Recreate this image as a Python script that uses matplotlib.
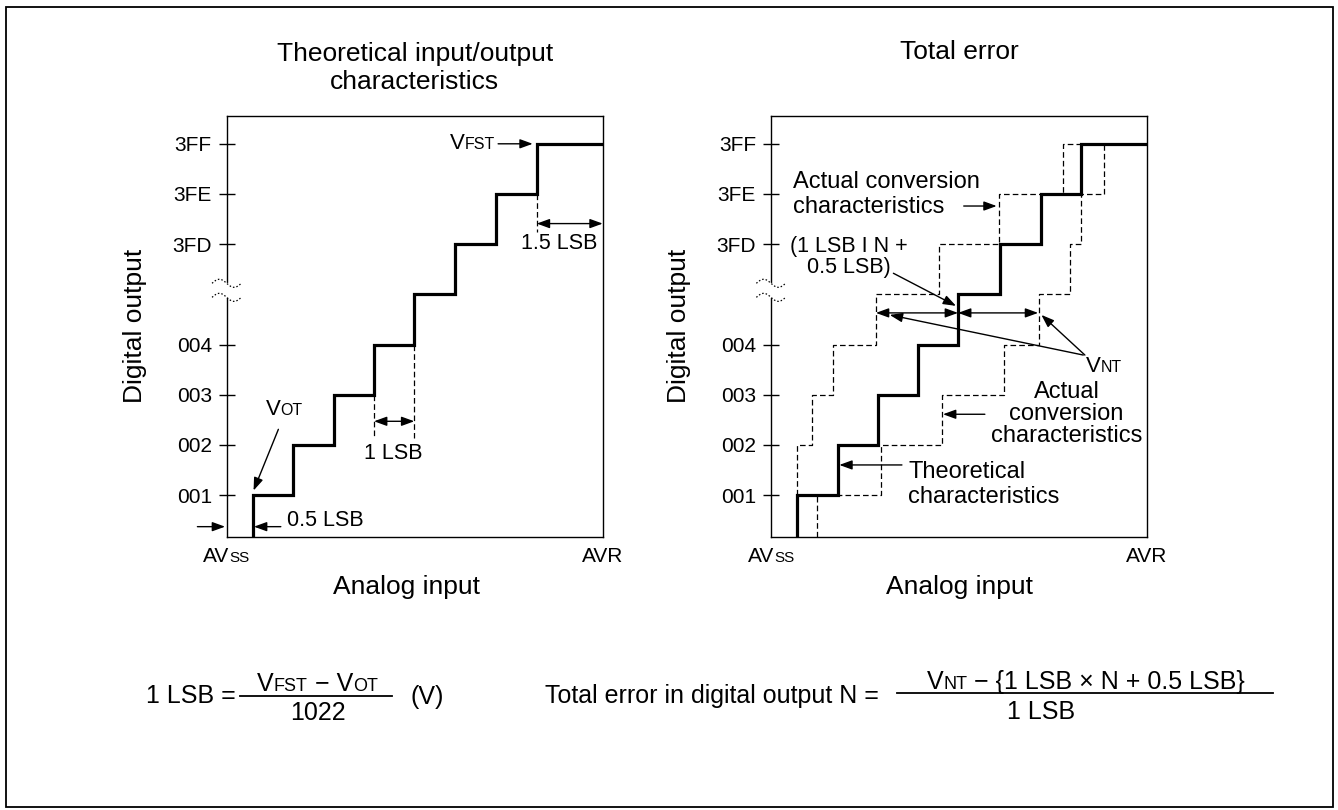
import numpy as np
import matplotlib
matplotlib.use("Agg")
import matplotlib.pyplot as plt
from matplotlib.lines import Line2D
from matplotlib.patches import Rectangle
from matplotlib.offsetbox import TextArea, HPacker, AnnotationBbox

plt.rcParams['font.family'] = ['Liberation Sans', 'DejaVu Sans']

W, H = 1338, 810

# output codes and y-axis labels (levels in code steps, x in LSB)
code_levels = [1, 2, 3, 4, 5, 6, 7, 8]
tick_levels = [1, 2, 3, 4, 6, 7, 8]
tick_labels = ['001', '002', '003', '004', '3FD', '3FE', '3FF']

# theoretical transition points
theo_edges = [0.64, 1.64, 2.63, 3.62, 4.61, 5.62, 6.63, 7.62]
# actual characteristic that switches early (starts at code 001)
fast_edges = [0.65, 1.01, 1.52, 2.58, 4.14, 5.61, 7.17]
fast_levels = [2, 3, 4, 5, 6, 7, 8]
# actual characteristic that switches late
slow_edges = [1.14, 2.70, 4.21, 5.73, 6.59, 7.35, 7.62, 8.18]
slow_levels = [1, 2, 3, 4, 5, 6, 7, 8]

x_max = 9.24
y_min, y_max = 0.17, 8.56
break_level = 5.06

FS_TICK = 15
FS_LABEL = 19
FS_NOTE = 17
FS_SMALL = 15.5
FS_EQ = 18


def fig_xy(px, py):
    return px / W, 1 - py / H


def stairs(edges, levels, y_start, x_end):
    xs, ys = [edges[0]], [y_start]
    for i, (e, lv) in enumerate(zip(edges, levels)):
        nxt = edges[i + 1] if i + 1 < len(edges) else x_end
        xs += [e, nxt]
        ys += [lv, lv]
    return xs, ys


def sc_text(host, xy, parts, align=(0.5, 0.5), coords='data'):
    # "V" + small capitals, sharing one baseline
    kids = [TextArea(t, textprops=dict(fontsize=s, color='black')) for t, s in parts]
    box = HPacker(children=kids, align='baseline', pad=0, sep=0)
    ab = AnnotationBbox(box, xy, xycoords=coords, frameon=False,
                        box_alignment=align, pad=0, annotation_clip=False)
    host.add_artist(ab)


def arrow(ax, start, end, style='-|>'):
    ax.annotate('', xy=end, xytext=start,
                arrowprops=dict(arrowstyle=style + ',head_length=0.55,head_width=0.2',
                                lw=1.0, color='black', shrinkA=0, shrinkB=0,
                                mutation_scale=14),
                annotation_clip=False)


def dashed(ax, xs, ys):
    ax.plot(xs, ys, color='black', lw=0.9, ls=(0, (4.5, 2.5)), clip_on=False)


def setup(ax, xlab_x):
    ax.set_xlim(0, x_max)
    ax.set_ylim(y_min, y_max)
    ax.set_xticks([])
    ax.set_yticks(tick_levels, tick_labels)
    ax.tick_params(axis='y', direction='inout', length=11.5, width=1.0,
                   pad=5, labelsize=FS_TICK)
    for s in ax.spines.values():
        s.set_linewidth(1.0)
    ax.text(-0.245, 0.5, 'Digital output', transform=ax.transAxes, rotation=90,
            ha='center', va='center', fontsize=FS_LABEL)
    ax.text(xlab_x, -0.119, 'Analog input', transform=ax.transAxes,
            ha='center', va='center', fontsize=FS_LABEL)
    sc_text(ax, (0, -0.0475), [('AV', FS_TICK), ('SS', 11)], coords='axes fraction')
    ax.text(1, -0.0475, 'AVR', transform=ax.transAxes, ha='center', va='center',
            fontsize=FS_TICK)
    # axis break symbol
    ax.plot([0, 0], [break_level - 0.1, break_level + 0.12], color='white', lw=3,
            clip_on=False, zorder=3)
    t = np.linspace(-1, 1, 60)
    for yc in (break_level + 0.16, break_level - 0.12):
        ax.plot(t * 0.36, yc - 0.08 * np.sin(np.pi * t), color='black', lw=0.9,
                ls=(0, (1.2, 1.6)), clip_on=False, zorder=4)
    # theoretical characteristic (bold)
    xs, ys = stairs(theo_edges, code_levels, y_min, x_max)
    ax.plot(xs, ys, color='black', lw=2.3, solid_joinstyle='miter', zorder=5)


fig = plt.figure(figsize=(W / 100, H / 100), dpi=100)
fig.add_artist(Rectangle(fig_xy(6, 807), (1333 - 6) / W, (807 - 7) / H,
                         transform=fig.transFigure, fill=False, lw=1.3, color='black'))

ax1 = fig.add_axes([226.7 / W, (H - 536.7) / H, 376 / W, 421 / H])
ax2 = fig.add_axes([771 / W, (H - 536.7) / H, 375.7 / W, 421 / H])
setup(ax1, 0.479)
setup(ax2, 0.503)

# ---- left panel: theoretical input/output characteristics
fig.text(*fig_xy(414.7, 68), 'Theoretical input/output\ncharacteristics', ha='center',
         va='center', fontsize=FS_LABEL, linespacing=1.25)

sc_text(ax1, (6.59, 8.0), [('V', 16), ('FST', 11.5)], align=(1, 0.5))
arrow(ax1, (6.67, 8.0), (7.52, 8.0))

dashed(ax1, [theo_edges[7], theo_edges[7]], [7, 6.25])
arrow(ax1, (theo_edges[7], 6.41), (x_max, 6.41), '<|-|>')
ax1.text(8.17, 6.01, '1.5 LSB', ha='center', va='center', fontsize=FS_SMALL)

dashed(ax1, [theo_edges[3], theo_edges[3]], [3, 2.14])
dashed(ax1, [theo_edges[4], theo_edges[4]], [4, 2.14])
arrow(ax1, (theo_edges[3], 2.47), (theo_edges[4], 2.47), '<|-|>')
ax1.text(4.09, 1.82, '1 LSB', ha='center', va='center', fontsize=FS_SMALL)

sc_text(ax1, (1.41, 2.71), [('V', 16), ('OT', 11.5)])
arrow(ax1, (1.27, 2.31), (0.66, 1.09))

ax1.text(1.49, 0.5, '0.5 LSB', ha='left', va='center', fontsize=FS_SMALL)
arrow(ax1, (-0.72, 0.37), (-0.04, 0.37))
arrow(ax1, (1.33, 0.37), (0.67, 0.37))

# ---- right panel: total error
fig.text(*fig_xy(959, 52), 'Total error', ha='center', va='center', fontsize=FS_LABEL)

xs, ys = stairs(fast_edges, fast_levels, 1, theo_edges[7])
dashed(ax2, xs, ys)
xs, ys = stairs(slow_edges, slow_levels, y_min, slow_edges[-1])
dashed(ax2, xs, ys)

arrow(ax2, (2.58, 4.63), (4.60, 4.63), '<|-|>')
arrow(ax2, (4.60, 4.63), (6.57, 4.63), '<|-|>')
ax2.text(1.92, 5.735, '(1 LSB I N +\n0.5 LSB)', ha='center', va='center',
         ma='center', fontsize=FS_SMALL, linespacing=1.0)
arrow(ax2, (3.01, 5.42), (4.55, 4.77))

sc_text(ax2, (8.18, 3.56), [('V', 16), ('NT', 11.5)])
arrow(ax2, (7.68, 3.79), (2.92, 4.59))
arrow(ax2, (7.72, 3.79), (6.65, 4.59))

ax2.text(0.53, 6.99, 'Actual conversion\ncharacteristics', ha='left', va='center',
         fontsize=FS_NOTE, linespacing=1.2)
arrow(ax2, (4.74, 6.76), (5.55, 6.76))

ax2.text(7.27, 2.61, 'Actual\nconversion\ncharacteristics', ha='center', va='center',
         ma='center', fontsize=FS_NOTE, linespacing=1.0)
arrow(ax2, (5.26, 2.61), (4.23, 2.61))

ax2.text(3.38, 1.215, 'Theoretical\ncharacteristics', ha='left', va='center',
         fontsize=FS_NOTE, linespacing=1.2)
arrow(ax2, (3.22, 1.6), (1.68, 1.6))

# ---- formulas
fig.text(*fig_xy(236, 696), '1 LSB =', ha='right', va='center', fontsize=FS_EQ)
sc_text(fig, fig_xy(317.5, 684), [('V', FS_EQ), ('FST', 13), (' \u2212 V', FS_EQ), ('OT', 13)],
        coords='figure fraction')
fig.add_artist(Line2D([240 / W, 392.3 / W], [1 - 695.7 / H] * 2, color='black', lw=1.3,
                      transform=fig.transFigure))
fig.text(*fig_xy(317.5, 713.3), '1022', ha='center', va='center', fontsize=FS_EQ)
fig.text(*fig_xy(427.5, 697), '(V)', ha='center', va='center', fontsize=FS_EQ)

fig.text(*fig_xy(545, 696), 'Total error in digital output N =', ha='left', va='center',
         fontsize=FS_EQ)
sc_text(fig, fig_xy(1086, 682), [('V', FS_EQ), ('NT', 13),
                                  (' \u2212 {1 LSB \u00d7 N + 0.5 LSB}', FS_EQ)],
        coords='figure fraction')
fig.add_artist(Line2D([896.7 / W, 1273.3 / W], [1 - 693.3 / H] * 2, color='black', lw=1.3,
                      transform=fig.transFigure))
fig.text(*fig_xy(1041, 711.7), '1 LSB', ha='center', va='center', fontsize=FS_EQ)

fig.savefig('out.png', dpi=100)
